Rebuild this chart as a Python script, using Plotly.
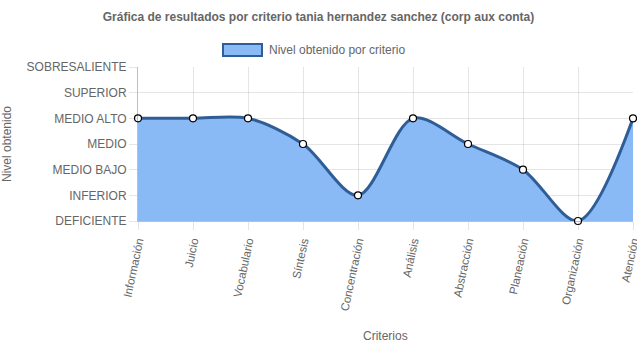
import plotly.graph_objects as go

criterios = ["Información", "Juicio", "Vocabulario", "Síntesis", "Concentración",
             "Análisis", "Abstracción", "Planeación", "Organización", "Atención"]
niveles = ["DEFICIENTE", "INFERIOR", "MEDIO BAJO", "MEDIO", "MEDIO ALTO", "SUPERIOR", "SOBRESALIENTE"]
valores = [4, 4, 4, 3, 1, 4, 3, 2, 0, 4]
serie = "Nivel obtenido por criterio"

FONT = "Liberation Sans, Arial, sans-serif"
GREY = "#666666"
FILL = "rgba(137,186,245,1)"
LINE = "#2f5e97"

W, H = 637, 348
ML, MR, MT, MB = 138, 4, 67, 127
PW, PH = W - ML - MR, H - MT - MB

def px(x):
    return (x - ML) / PW

def py(y):
    return (H - MB - y) / PH

fig = go.Figure()
fig.add_trace(go.Scatter(
    x=criterios, y=valores, mode="lines+markers", name=serie,
    line=dict(color=LINE, width=3, shape="spline", smoothing=0.9),
    fill="tozeroy", fillcolor=FILL,
    marker=dict(size=7, color="white", line=dict(color="black", width=1.2)),
    showlegend=False, cliponaxis=False,
))

# legend (Chart.js style box)
fig.add_shape(type="rect", xref="paper", yref="paper",
              x0=px(223), x1=px(262), y0=py(56), y1=py(44),
              fillcolor=FILL, line=dict(color=LINE, width=2))
fig.add_annotation(text=serie, xref="paper", yref="paper", x=px(267), y=py(50.5),
                   xanchor="left", yanchor="middle", showarrow=False,
                   font=dict(size=12, color=GREY, family=FONT))
# x axis title
fig.add_annotation(text="Criterios", xref="paper", yref="paper", x=0.5, y=py(336),
                   xanchor="center", yanchor="middle", showarrow=False,
                   font=dict(size=12, color=GREY, family=FONT))

fig.update_layout(
    width=W, height=H,
    margin=dict(l=ML, r=MR, t=MT, b=MB),
    paper_bgcolor="white", plot_bgcolor="white",
    font=dict(family=FONT, color=GREY, size=12),
    title=dict(text="<b>Gráfica de resultados por criterio tania hernandez sanchez (corp aux conta)</b>",
               x=0.5, xanchor="center", y=1 - 17 / H, yanchor="middle",
               font=dict(size=12, color=GREY, family=FONT)),
    showlegend=False,
    xaxis=dict(
        type="category", range=[0, len(criterios) - 1],
        showgrid=True, gridcolor="rgba(0,0,0,0.1)",
        ticks="outside", ticklen=8, tickcolor="rgba(0,0,0,0.1)",
        tickangle=-78, tickfont=dict(size=11.5, color=GREY, family=FONT),
        showline=True, linecolor="rgba(0,0,0,0.25)",
        automargin=False,
    ),
    yaxis=dict(
        range=[0, 6], tickvals=list(range(len(niveles))), ticktext=niveles,
        showgrid=True, gridcolor="rgba(0,0,0,0.1)",
        ticks="outside", ticklen=8, tickcolor="rgba(0,0,0,0.1)",
        tickfont=dict(size=12, color=GREY, family=FONT),
        showline=True, linecolor="rgba(0,0,0,0.25)",
        zeroline=False,
        title=dict(text="Nivel obtenido", font=dict(size=12, color=GREY, family=FONT), standoff=12),
        automargin=False,
    ),
)
fig.write_html("out.html")
